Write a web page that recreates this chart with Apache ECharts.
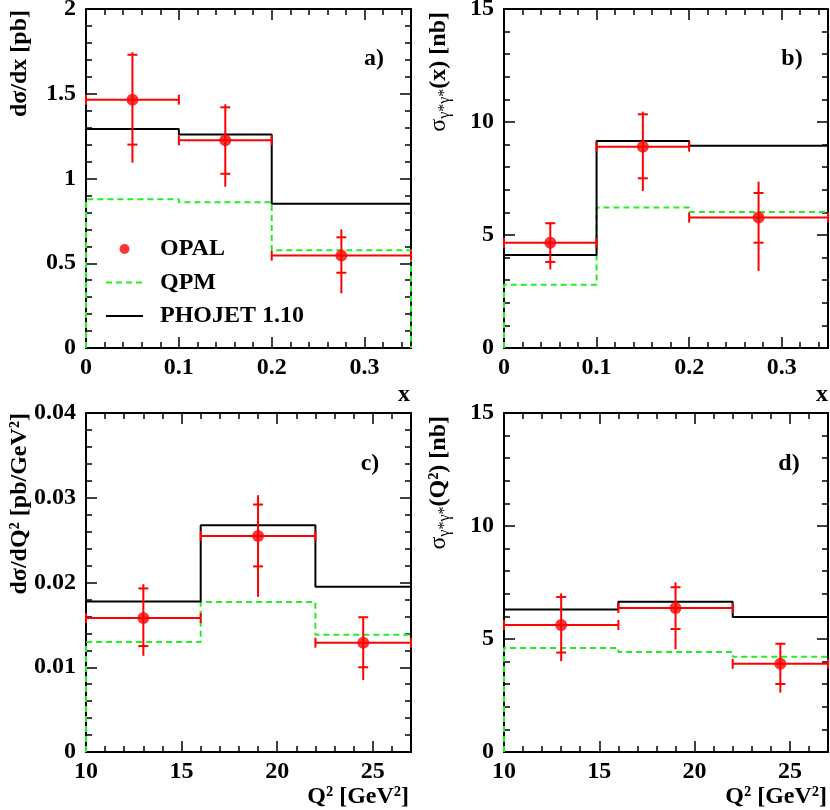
<!DOCTYPE html>
<html>
<head>
<meta charset="utf-8">
<script src="https://cdn.jsdelivr.net/npm/echarts@6/dist/echarts.min.js"></script>
<style>
  html, body { margin: 0; padding: 0; background: #fff; }
  #chart { width: 830px; height: 810px; }
</style>
</head>
<body>
<div id="chart"></div>
<script>
// bin edges and centres
const xEdges = [0, 0.1, 0.2, 0.35];
const xCentres = [0.05, 0.15, 0.275];
const q2Edges = [10, 16, 22, 27];
const q2Centres = [13, 19, 24.5];

// a) dσ/dx [pb]
const dsdxOpal = [1.465, 1.225, 0.545];
const dsdxStatLo = [1.200, 1.028, 0.444];
const dsdxStatHi = [1.730, 1.420, 0.653];
const dsdxTotLo = [1.093, 0.952, 0.323];
const dsdxTotHi = [1.745, 1.438, 0.700];
const dsdxQpm = [0.877, 0.860, 0.576];
const dsdxPhojet = [1.292, 1.259, 0.851];

// b) σγ*γ*(x) [nb]
const sigxOpal = [4.66, 8.91, 5.77];
const sigxStatLo = [3.81, 7.51, 4.66];
const sigxStatHi = [5.52, 10.34, 6.86];
const sigxTotLo = [3.48, 6.95, 3.41];
const sigxTotHi = [5.55, 10.46, 7.36];
const sigxQpm = [2.80, 6.22, 6.02];
const sigxPhojet = [4.12, 9.16, 8.95];

// c) dσ/dQ² [pb/GeV²]
const dsdqOpal = [0.0158, 0.0255, 0.0129];
const dsdqStatLo = [0.0125, 0.0219, 0.0100];
const dsdqStatHi = [0.0193, 0.0292, 0.0159];
const dsdqTotLo = [0.01135, 0.0183, 0.0085];
const dsdqTotHi = [0.0198, 0.0303, 0.0160];
const dsdqQpm = [0.01297, 0.01769, 0.01383];
const dsdqPhojet = [0.01777, 0.02676, 0.01951];

// d) σγ*γ*(Q²) [nb]
const sigqOpal = [5.62, 6.37, 3.90];
const sigqStatLo = [4.40, 5.44, 3.01];
const sigqStatHi = [6.86, 7.29, 4.79];
const sigqTotLo = [4.02, 4.55, 2.63];
const sigqTotHi = [7.02, 7.51, 4.82];
const sigqQpm = [4.60, 4.42, 4.21];
const sigqPhojet = [6.31, 6.65, 5.97];

const RED = '#ff0000';
const GREEN = '#22ee22';
const SERIF = '"Liberation Serif", "Times New Roman", serif';

// 四个面板
const panels = [
  { grid: { left: 86, top: 9, width: 325, height: 339 },
    edges: xEdges, centres: xCentres, opal: dsdxOpal,
    statLo: dsdxStatLo, statHi: dsdxStatHi, totLo: dsdxTotLo, totHi: dsdxTotHi,
    qpm: dsdxQpm, phojet: dsdxPhojet, closeQpm: true,
    xMin: 0, xMax: 0.35, xMajor: 0.1, xMinor: 0.02, yMax: 2, yMajor: 0.5 },
  { grid: { left: 504, top: 9, width: 324, height: 339 },
    edges: xEdges, centres: xCentres, opal: sigxOpal,
    statLo: sigxStatLo, statHi: sigxStatHi, totLo: sigxTotLo, totHi: sigxTotHi,
    qpm: sigxQpm, phojet: sigxPhojet,
    xMin: 0, xMax: 0.35, xMajor: 0.1, xMinor: 0.02, yMax: 15, yMajor: 5 },
  { grid: { left: 86, top: 413, width: 325, height: 339 },
    edges: q2Edges, centres: q2Centres, opal: dsdqOpal,
    statLo: dsdqStatLo, statHi: dsdqStatHi, totLo: dsdqTotLo, totHi: dsdqTotHi,
    qpm: dsdqQpm, phojet: dsdqPhojet,
    xMin: 10, xMax: 27, xMajor: 5, xMinor: 1, yMax: 0.04, yMajor: 0.01 },
  { grid: { left: 504, top: 413, width: 324, height: 339 },
    edges: q2Edges, centres: q2Centres, opal: sigqOpal,
    statLo: sigqStatLo, statHi: sigqStatHi, totLo: sigqTotLo, totHi: sigqTotHi,
    qpm: sigqQpm, phojet: sigqPhojet,
    xMin: 10, xMax: 27, xMajor: 5, xMinor: 1, yMax: 15, yMajor: 5 },
];

const tickStyle = { color: '#000', width: 1.5 };
const frameLine = { onZero: false, lineStyle: { color: '#000', width: 2 } };
const labelStyle = { color: '#000', fontFamily: SERIF, fontWeight: 'bold', fontSize: 24 };

const grids = [];
const xAxes = [];
const yAxes = [];
const series = [];

panels.forEach((p, i) => {
  grids.push({ ...p.grid, outerBoundsMode: 'none', containLabel: false });
  const xBase = { type: 'value', gridIndex: i, min: p.xMin, max: p.xMax, splitLine: { show: false } };
  // 下方主刻度（带标签）、下方次刻度、上方主刻度、上方次刻度
  xAxes.push(
    { ...xBase, position: 'bottom', interval: p.xMajor, axisLine: frameLine,
      axisTick: { inside: true, length: 11, lineStyle: tickStyle },
      axisLabel: { ...labelStyle, margin: 8, showMaxLabel: false } },
    { ...xBase, position: 'bottom', interval: p.xMinor, axisLine: { show: false, onZero: false },
      axisTick: { inside: true, length: 6, lineStyle: tickStyle }, axisLabel: { show: false } },
    { ...xBase, position: 'top', interval: p.xMajor, axisLine: frameLine,
      axisTick: { inside: true, length: 11, lineStyle: tickStyle }, axisLabel: { show: false } },
    { ...xBase, position: 'top', interval: p.xMinor, axisLine: { show: false, onZero: false },
      axisTick: { inside: true, length: 6, lineStyle: tickStyle }, axisLabel: { show: false } }
  );
  const yBase = { type: 'value', gridIndex: i, min: 0, max: p.yMax, interval: p.yMajor,
    splitLine: { show: false }, axisLine: frameLine,
    axisTick: { inside: true, length: 11, lineStyle: tickStyle },
    minorTick: { show: true, splitNumber: 5, length: 6, lineStyle: tickStyle } };
  yAxes.push(
    { ...yBase, position: 'left', axisLabel: { ...labelStyle, margin: 10 } },
    { ...yBase, position: 'right', axisLabel: { show: false } }
  );

  const xi = 4 * i;
  const yi = 2 * i;
  const n = p.edges.length - 1;

  // 直方图 -> 阶梯线
  const histData = (vals) => {
    const d = [];
    for (let k = 0; k < n; k++) d.push([p.edges[k], vals[k]]);
    d.push([p.edges[n], vals[n - 1]]);
    return d;
  };
  const qpmData = [[p.edges[0], 0], ...histData(p.qpm)];
  if (p.closeQpm) qpmData.push([p.edges[n], 0]);

  series.push({
    type: 'line', name: 'QPM', xAxisIndex: xi, yAxisIndex: yi, step: 'end',
    data: qpmData, showSymbol: false, symbol: 'none', clip: false, z: 2,
    lineStyle: { color: GREEN, width: 2, type: [6, 4] }, itemStyle: { color: GREEN },
  });
  series.push({
    type: 'line', name: 'PHOJET 1.10', xAxisIndex: xi, yAxisIndex: yi, step: 'end',
    data: histData(p.phojet), showSymbol: false, symbol: 'none', clip: false, z: 3,
    lineStyle: { color: '#000', width: 2 }, itemStyle: { color: '#000' },
  });
  series.push({
    type: 'custom', name: 'OPAL errors', xAxisIndex: xi, yAxisIndex: yi, z: 4,
    data: p.centres.map((c, k) => [c, p.opal[k], p.edges[k], p.edges[k + 1],
      p.statLo[k], p.statHi[k], p.totLo[k], p.totHi[k]]),
    encode: { x: 0, y: 1 },
    renderItem(params, api) {
      const x = api.value(0);
      const y = api.value(1);
      const l = api.coord([api.value(2), y]);
      const r = api.coord([api.value(3), y]);
      const sLo = api.coord([x, api.value(4)]);
      const sHi = api.coord([x, api.value(5)]);
      const tLo = api.coord([x, api.value(6)]);
      const tHi = api.coord([x, api.value(7)]);
      const style = { stroke: RED, lineWidth: 2 };
      const seg = (x1, y1, x2, y2) => ({ type: 'line', shape: { x1, y1, x2, y2 }, style });
      return {
        type: 'group',
        children: [
          seg(l[0], l[1], r[0], r[1]),
          seg(l[0], l[1] - 5, l[0], l[1] + 5),
          seg(r[0], r[1] - 5, r[0], r[1] + 5),
          seg(tLo[0], tLo[1], tHi[0], tHi[1]),
          seg(sLo[0] - 5, sLo[1], sLo[0] + 5, sLo[1]),
          seg(sHi[0] - 5, sHi[1], sHi[0] + 5, sHi[1]),
        ],
      };
    },
  });
  series.push({
    type: 'scatter', name: 'OPAL', xAxisIndex: xi, yAxisIndex: yi, z: 5,
    data: p.centres.map((c, k) => [c, p.opal[k]]),
    symbol: 'circle', symbolSize: 12, itemStyle: { color: RED },
  });
});

const boldFont = `bold 24px ${SERIF}`;
const text = (x, y, str, align, vAlign) => ({
  type: 'text', x, y, z: 10,
  style: { text: str, fill: '#000', font: boldFont, align, verticalAlign: vAlign },
});
const richSigma = {
  s: { fontFamily: SERIF, fontSize: 24, lineHeight: 28, color: '#000' },
  sub: { fontFamily: SERIF, fontSize: 16, lineHeight: 16, verticalAlign: 'bottom', color: '#000' },
  b: { fontFamily: SERIF, fontSize: 24, fontWeight: 'bold', lineHeight: 28, color: '#000' },
};

const graphic = [
  // 面板标记
  text(374, 59, 'a)', 'center', 'middle'),
  text(792, 59, 'b)', 'center', 'middle'),
  text(370, 464, 'c)', 'center', 'middle'),
  text(789, 464, 'd)', 'center', 'middle'),
  // x 轴标题
  text(410, 395, 'x', 'right', 'middle'),
  text(828, 395, 'x', 'right', 'middle'),
  text(409, 797, 'Q² [GeV²]', 'right', 'middle'),
  text(827, 797, 'Q² [GeV²]', 'right', 'middle'),
  // y 轴标题（竖排）
  { type: 'text', x: 20, y: 10, rotation: Math.PI / 2, z: 10,
    style: { text: 'dσ/dx [pb]', fill: '#000', font: boldFont, align: 'right', verticalAlign: 'middle' } },
  { type: 'text', x: 20, y: 413, rotation: Math.PI / 2, z: 10,
    style: { text: 'dσ/dQ² [pb/GeV²]', fill: '#000', font: boldFont, align: 'right', verticalAlign: 'middle' } },
  { type: 'text', x: 439, y: 12, rotation: Math.PI / 2, z: 10,
    style: { text: '{s|σ}{sub|γ*γ*}{b|(x) [nb]}', rich: richSigma, fill: '#000', align: 'right', verticalAlign: 'middle' } },
  { type: 'text', x: 439, y: 416, rotation: Math.PI / 2, z: 10,
    style: { text: '{s|σ}{sub|γ*γ*}{b|(Q²) [nb]}', rich: richSigma, fill: '#000', align: 'right', verticalAlign: 'middle' } },
];

const lineLegendItem = (name) => ({ name, itemStyle: { opacity: 0 } });

const chart = echarts.init(document.getElementById('chart'));
chart.setOption({
  animation: false,
  backgroundColor: '#fff',
  grid: grids,
  xAxis: xAxes,
  yAxis: yAxes,
  legend: {
    data: ['OPAL', lineLegendItem('QPM'), lineLegendItem('PHOJET 1.10')],
    orient: 'vertical', left: 100, top: 232,
    itemWidth: 37, itemHeight: 10, itemGap: 9.5,
    selectedMode: false,
    textStyle: { color: '#000', fontFamily: SERIF, fontWeight: 'bold', fontSize: 24, lineHeight: 24, padding: [0, 0, 0, 12] },
  },
  series,
  graphic,
});
</script>
</body>
</html>
